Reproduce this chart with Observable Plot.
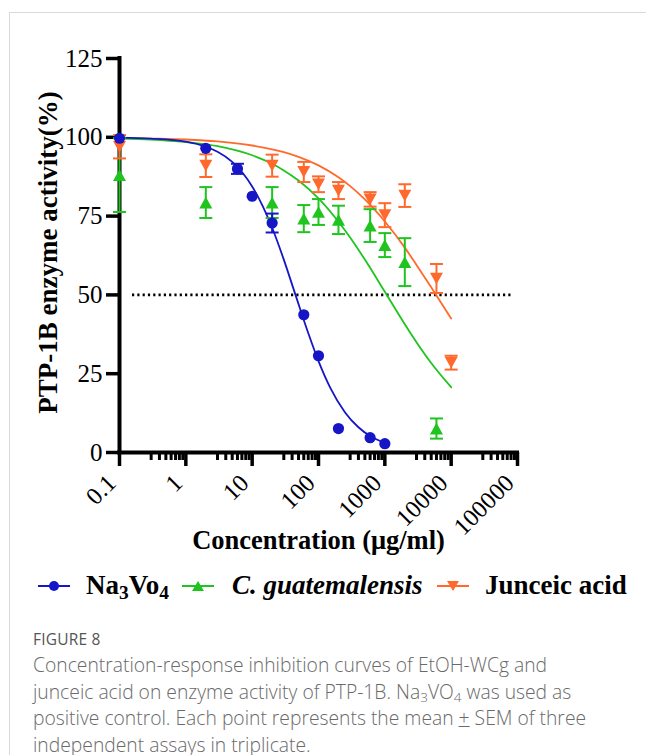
<!DOCTYPE html>
<html>
<head>
<meta charset="utf-8">
<script src="https://cdn.jsdelivr.net/npm/d3@7"></script>
<script src="https://cdn.jsdelivr.net/npm/@observablehq/plot@0.6"></script>
<style>
  html, body { margin: 0; padding: 0; background: #fff; }
  body { width: 646px; height: 755px; position: relative; overflow: hidden; }
  #card { position: absolute; left: 9px; top: 12px; right: -2px; bottom: -2px;
          border-left: 1.5px solid #dadada; border-top: 1.5px solid #dadada; pointer-events: none; }
  #chart { position: absolute; left: 0; top: 0; }
  #legend { position: absolute; left: 0; top: 565px; width: 646px; height: 40px;
            font-family: "Liberation Serif", "Times New Roman", serif; font-weight: bold; font-size: 27px; color: #000; }
  #legend .item { position: absolute; top: 0; height: 40px; line-height: 40px; white-space: nowrap; }
  #legend svg { position: absolute; top: 0; }
  #legend sub { font-size: 0.72em; vertical-align: -0.28em; line-height: 0; }
  #caption { position: absolute; left: 33px; top: 627px; width: 613px;
             font-family: "Open Sans", "Noto Sans", sans-serif; color: #6a6a6a; }
  #caption .fig { font-size: 15.5px; color: #555; line-height: 24px; letter-spacing: 0.2px; }
  #caption .txt { font-size: 19.3px; line-height: 26.5px; margin-top: 1px; white-space: nowrap; font-weight: 300; }
  #caption sub { font-size: 0.7em; vertical-align: -0.25em; line-height: 0; }
</style>
</head>
<body>
<div id="chart"></div>
<div id="legend"></div>
<div id="caption">
  <div class="fig">FIGURE 8</div>
  <div class="txt">Concentration-response inhibition curves of EtOH-WCg and<br>junceic acid on enzyme activity of PTP-1B. Na<sub>3</sub>VO<sub>4</sub> was used as<br>positive control. Each point represents the mean <span style="text-decoration:underline">+</span> SEM of three<br>independent assays in triplicate.</div>
</div>
<div id="card"></div>
<script>
// ---------- data ----------
const seriesNames = ["Na3Vo4", "C. guatemalensis", "Junceic acid"];

// Na3VO4 (positive control)
const naConc = [0.1, 2, 6, 10, 20, 60, 100, 200, 600, 1000];
const naAct  = [99.7, 96.5, 90.0, 81.3, 72.8, 43.7, 30.7, 7.6, 4.7, 2.8];
const naSem  = [0, 0, 1.6, 0, 3.0, 0, 0, 0, 0, 0];

// C. guatemalensis (EtOH-WCg)
const cgConc = [0.1, 2, 20, 60, 100, 200, 600, 1000, 2000, 6000];
const cgAct  = [88.0, 79.3, 79.3, 74.2, 76.3, 73.8, 72.0, 65.8, 60.4, 7.6];
const cgSem  = [11.7, 4.9, 4.9, 4.3, 4.1, 4.5, 5.2, 3.8, 7.6, 3.2];

// Junceic acid
const jaConc = [0.1, 2, 20, 60, 100, 200, 600, 1000, 2000, 6000, 10000];
const jaAct  = [97.0, 91.0, 91.0, 89.0, 85.1, 83.1, 80.3, 75.3, 81.5, 55.2, 28.5];
const jaSem  = [3.7, 3.6, 3.5, 3.2, 2.5, 2.7, 2.3, 3.8, 3.6, 4.6, 2.2];

// fitted curves
const naFitConc = [0.1, 0.3, 1, 2, 3, 5, 10, 20, 30, 45, 70, 100, 150, 250, 400, 600, 1000];
const naFitAct  = [99.9, 99.6, 98.6, 97.0, 95.4, 92.2, 84.4, 71.3, 61.2, 50.0, 37.9, 29.0, 20.6, 12.8, 8.0, 5.2, 3.0];
const fitConc   = [0.1, 0.3, 1, 3, 10, 20, 30, 50, 100, 200, 300, 500, 1000, 2000, 3000, 5000, 10000];
const cgFitAct  = [99.6, 99.3, 98.5, 97.2, 94.3, 91.6, 89.5, 86.3, 80.6, 73.2, 68.2, 61.2, 51.0, 40.7, 35.0, 28.4, 20.7];
const jaFitAct  = [99.8, 99.6, 99.3, 98.7, 97.4, 96.2, 95.3, 93.8, 91.1, 87.3, 84.5, 80.3, 73.3, 65.0, 59.5, 52.4, 42.5];

const referenceLevel = [50];

// axis ticks
const xTickValues = [0.1, 1, 10, 100, 1000, 10000, 100000];
const xTickLabels = ["0.1", "1", "10", "100", "1000", "10000", "100000"];
const xMinorMultipliers = [3, 4, 5, 6, 7, 8, 9];
const yTickValues = [0, 25, 50, 75, 100, 125];

// ---------- styles ----------
const BLUE = "#1616c6", GREEN = "#1fc41f", ORANGE = "#ff6a2c";
const serif = "'Liberation Serif', 'Times New Roman', serif";

const pts = (c, a, s) => c.map((x, i) => ({x, y: a[i], sem: s[i]}));
const line = (c, a) => c.map((x, i) => ({x, y: a[i]}));
const naPts = pts(naConc, naAct, naSem), cgPts = pts(cgConc, cgAct, cgSem), jaPts = pts(jaConc, jaAct, jaSem);
const naFit = line(naFitConc, naFitAct), cgFit = line(fitConc, cgFitAct), jaFit = line(fitConc, jaFitAct);
const xTicks = xTickValues.map((v, i) => ({x: v, label: xTickLabels[i]}));
const xMinor = xTickValues.slice(0, -1).flatMap(d => xMinorMultipliers.map(m => d * m));

// custom symbols
const capSymbol = {draw(ctx, size) { const r = Math.sqrt(size / Math.PI); ctx.moveTo(-r, 0); ctx.lineTo(r, 0); }};
const triUp = {draw(ctx, size) { const r = Math.sqrt(size / Math.PI); const h = r * 0.9;
  ctx.moveTo(0, -h); ctx.lineTo(r, h); ctx.lineTo(-r, h); ctx.closePath(); }};
const triDown = {draw(ctx, size) { const r = Math.sqrt(size / Math.PI); const h = r * 0.9;
  ctx.moveTo(0, h); ctx.lineTo(r, -h); ctx.lineTo(-r, -h); ctx.closePath(); }};

function seriesMarks(data, color, symbol, r) {
  const withErr = data.filter(d => d.sem > 0);
  return [
    Plot.ruleX(withErr, {x: "x", y1: d => d.y - d.sem, y2: d => d.y + d.sem, stroke: color, strokeWidth: 2}),
    Plot.dot(withErr, {x: "x", y: d => d.y + d.sem, symbol: capSymbol, r: 6.5, stroke: color, strokeWidth: 2, fill: "none"}),
    Plot.dot(withErr, {x: "x", y: d => d.y - d.sem, symbol: capSymbol, r: 6.5, stroke: color, strokeWidth: 2, fill: "none"}),
    Plot.dot(data, {x: "x", y: "y", symbol, r, fill: color, stroke: "none"})
  ];
}

const chart = Plot.plot({
  width: 646,
  height: 565,
  marginLeft: 119,
  marginRight: 129,
  marginTop: 58,
  marginBottom: 113,
  style: {fontFamily: serif, background: "transparent", overflow: "visible"},
  x: {type: "log", domain: [0.1, 100000], axis: null},
  y: {domain: [0, 125], axis: null},
  marks: [
    // reference line
    Plot.ruleY(referenceLevel, {stroke: "#000", strokeWidth: 2.6, strokeDasharray: "2.2,3.1", insetLeft: 13, insetRight: 4}),
    // axes
    Plot.axisX({ticks: xMinor, tickSize: 8, strokeWidth: 3, tickFormat: () => "", label: null}),
    Plot.axisX({ticks: xTickValues, tickSize: 14, strokeWidth: 3.5, tickFormat: () => "", label: null}),
    Plot.axisY({ticks: yTickValues, tickSize: 13, strokeWidth: 3.5, tickPadding: 4, fontSize: 25, label: null, tickFormat: d => String(d)}),
    Plot.ruleY([0], {strokeWidth: 4, strokeLinecap: "square"}),
    Plot.ruleX([0.1], {y1: 0, y2: 125, strokeWidth: 4, strokeLinecap: "square"}),
    Plot.text(xTicks, {x: "x", text: "label", frameAnchor: "bottom", rotate: -45, textAnchor: "end", dx: -2, dy: 32, fontSize: 24.5}),
    Plot.text(["Concentration (μg/ml)"], {frameAnchor: "bottom", dy: 96, fontSize: 26.5, fontWeight: "bold"}),
    Plot.text(["PTP-1B enzyme activity(%)"], {frameAnchor: "left", textAnchor: "middle", rotate: -90, dx: -71, dy: -3, fontSize: 27, fontWeight: "bold"}),
    // fitted curves
    Plot.line(jaFit, {x: "x", y: "y", stroke: ORANGE, strokeWidth: 1.8, curve: "monotone-x"}),
    Plot.line(cgFit, {x: "x", y: "y", stroke: GREEN, strokeWidth: 1.8, curve: "monotone-x"}),
    Plot.line(naFit, {x: "x", y: "y", stroke: BLUE, strokeWidth: 1.8, curve: "monotone-x"}),
    // points with SEM
    ...seriesMarks(cgPts, GREEN, triUp, 6.5),
    ...seriesMarks(jaPts, ORANGE, triDown, 6.5),
    ...seriesMarks(naPts, BLUE, "circle", 5.6)
  ]
});
document.getElementById("chart").appendChild(chart);

// ---------- legend ----------
const legendItems = [
  {name: seriesNames[0], color: BLUE, shape: "circle", lineX: 38, textX: 86, html: "Na<sub>3</sub>Vo<sub>4</sub>", italic: false},
  {name: seriesNames[1], color: GREEN, shape: "up", lineX: 182, textX: 232, html: "C. guatemalensis", italic: true},
  {name: seriesNames[2], color: ORANGE, shape: "down", lineX: 437, textX: 485, html: "Junceic acid", italic: false}
];
const legend = document.getElementById("legend");
for (const it of legendItems) {
  const w = 32, cx = w / 2, cy = 21;
  let marker;
  if (it.shape === "circle") marker = `<circle cx="${cx}" cy="${cy}" r="5" fill="${it.color}"/>`;
  else if (it.shape === "up") marker = `<path d="M${cx},${cy - 5} L${cx + 6},${cy + 5} L${cx - 6},${cy + 5}Z" fill="${it.color}"/>`;
  else marker = `<path d="M${cx},${cy + 5} L${cx + 6},${cy - 5} L${cx - 6},${cy - 5}Z" fill="${it.color}"/>`;
  legend.insertAdjacentHTML("beforeend",
    `<svg width="${w}" height="40" style="left:${it.lineX}px"><line x1="0" x2="${w}" y1="${cy}" y2="${cy}" stroke="${it.color}" stroke-width="2"/>${marker}</svg>` +
    `<div class="item" style="left:${it.textX}px;${it.italic ? "font-style:italic;" : ""}">${it.html}</div>`);
}
</script>
</body>
</html>
